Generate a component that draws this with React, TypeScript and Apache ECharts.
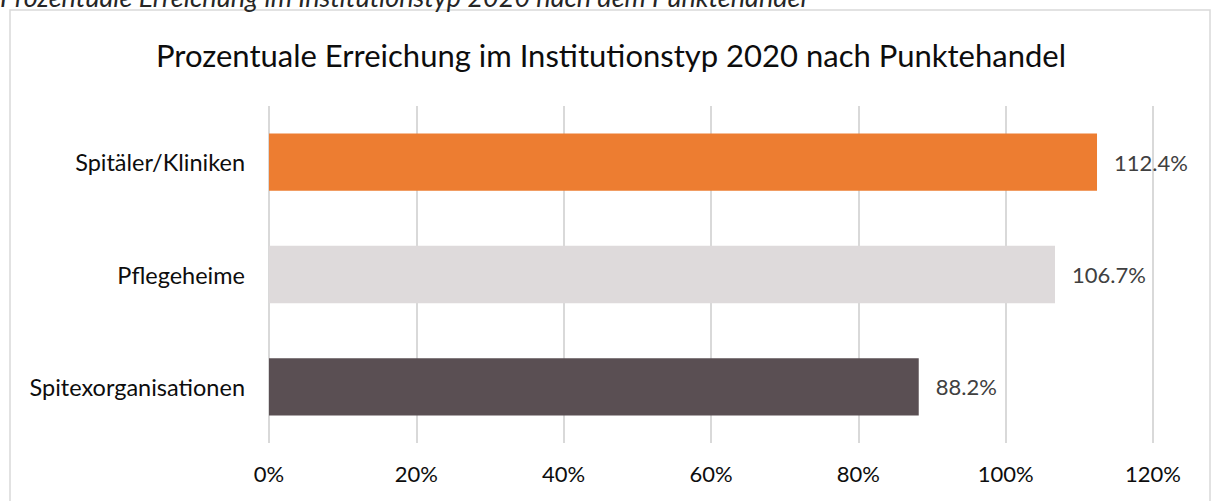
import React, { useEffect, useRef } from "react";
import * as echarts from "echarts";

const categories = ["Spitäler/Kliniken", "Pflegeheime", "Spitexorganisationen"];
const values = [112.4, 106.7, 88.2];
const barColors = ["#ED7D31", "#DEDADB", "#5A4F53"];
const titleText = "Prozentuale Erreichung im Institutionstyp 2020 nach Punktehandel";
const captionText = "Prozentuale Erreichung im Institutionstyp 2020 nach dem Punktehandel";

const FONT = "Lato, 'Open Sans', sans-serif";

export default function App() {
  const ref = useRef<HTMLDivElement>(null);
  useEffect(() => {
    const chart = echarts.init(ref.current!, null, { renderer: "svg" });
    chart.setOption({
      animation: false,
      backgroundColor: "#ffffff",
      textStyle: { fontFamily: FONT },
      graphic: [
        {
          type: "rect",
          shape: { x: 10, y: 10, width: 1200, height: 500 },
          style: { fill: "none", stroke: "#d9d9d9", lineWidth: 1.5 },
          silent: true,
        },
        {
          type: "text",
          x: 0,
          y: 10,
          style: {
            text: captionText,
            fontFamily: FONT,
            fontStyle: "italic",
            fontSize: 27,
            fill: "#262626",
            verticalAlign: "bottom",
            align: "left",
          },
        },
        {
          type: "text",
          x: 611,
          y: 55,
          style: {
            text: titleText,
            fontFamily: FONT,
            fontSize: 31,
            fill: "#0d0d0d",
            align: "center",
            verticalAlign: "middle",
          },
        },
      ],
      grid: { left: 269, right: 61, top: 106, bottom: 58, containLabel: false },
      xAxis: {
        type: "value",
        min: 0,
        max: 120,
        interval: 20,
        axisLine: { show: false },
        axisTick: { show: false },
        splitLine: { show: true, lineStyle: { color: "#d9d9d9", width: 2 } },
        axisLabel: {
          formatter: "{value}%",
          color: "#0d0d0d",
          fontSize: 22,
          fontFamily: FONT,
          margin: 19,
        },
      },
      yAxis: {
        type: "category",
        data: categories,
        inverse: true,
        axisLine: { show: false },
        axisTick: { show: false },
        splitLine: { show: false },
        axisLabel: { color: "#0d0d0d", fontSize: 23.5, fontFamily: FONT, margin: 24 },
      },
      series: [
        {
          type: "bar",
          barWidth: "51%",
          data: values.map((v, i) => ({ value: v, itemStyle: { color: barColors[i] } })),
          label: {
            show: true,
            position: "right",
            distance: 17,
            color: "#404040",
            fontSize: 22,
            fontFamily: FONT,
            formatter: (p: any) => p.value.toFixed(1) + "%",
          },
        },
      ],
    });
    return () => chart.dispose();
  }, []);
  return (
    <div
      ref={ref}
      style={{ position: "absolute", left: 0, top: 0, width: 1214, height: 501 }}
    />
  );
}
